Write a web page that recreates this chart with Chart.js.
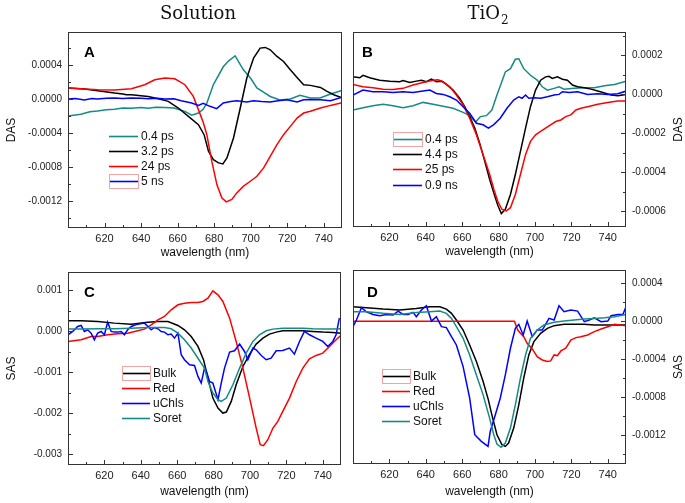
<!DOCTYPE html>
<html>
<head>
<meta charset="utf-8">
<title>DAS / SAS</title>
<script src="https://cdn.jsdelivr.net/npm/chart.js@4.4.0/dist/chart.umd.min.js"></script>
<style>
  html, body { margin:0; padding:0; background:#fff; }
  #wrap { position:relative; width:685px; height:503px; overflow:hidden; }
  #wrap canvas { position:absolute; left:0; top:0; }
  .head { position:absolute; top:0; font-family:"DejaVu Serif", serif; font-size:18px; color:#111;
          transform:translateX(-50%); white-space:nowrap; line-height:26px; }
  .head sub { font-size:12px; vertical-align:-5px; margin-left:1px; }
</style>
</head>
<body>
<div id="wrap">
  <canvas id="cA" width="685" height="503"></canvas>
  <canvas id="cB" width="685" height="503"></canvas>
  <canvas id="cC" width="685" height="503"></canvas>
  <canvas id="cD" width="685" height="503"></canvas>
  <div class="head" style="left:198px">Solution</div>
  <div class="head" style="left:488px">TiO<sub>2</sub></div>
</div>
<script>
/* ---------- ticks ---------- */
const xTicks = [620, 640, 660, 680, 700, 720, 740];
const ticksA = [-0.0012, -0.0008, -0.0004, 0, 0.0004];
const ticksB = [-0.0006, -0.0004, -0.0002, 0, 0.0002];
const ticksC = [-0.003, -0.002, -0.001, 0, 0.001];
const ticksD = [-0.0012, -0.0008, -0.0004, 0, 0.0004];

/* ---------- A : DAS, solution  [nm, value] ---------- */
const dasSol04 = [[600,-2.0e-4],[607,-1.8e-4],[612,-1.5e-4],[616,-1.4e-4],[621,-1.25e-4],[625.5,-1.2e-4],[630,-1.05e-4],[634.7,-1.1e-4],[640,-1.0e-4],[644,-1.08e-4],[648,-0.98e-4],[653,-1.0e-4],[658,-1.06e-4],[664,-1.45e-4],[667.7,-1.9e-4],[671.4,-1.65e-4],[674,-1.2e-4],[676,-0.5e-4],[679.6,1.7e-4],[685,3.8e-4],[688,4.5e-4],[691.5,5.1e-4],[696,3.45e-4],[700,2.45e-4],[703.4,1.3e-4],[707,0.8e-4],[710.7,0.3e-4],[716,-0.1e-4],[721.7,0],[727,0.45e-4],[732.7,0.12e-4],[738,0.12e-4],[743.7,0.6e-4],[750,1.0e-4]];
const dasSol32 = [[600,1.3e-4],[609,1.18e-4],[616.3,0.98e-4],[625.5,0.71e-4],[630,0.6e-4],[632,0.5e-4],[634.7,0.51e-4],[643.9,0.31e-4],[649.4,0.04e-4],[654.9,-0.27e-4],[660.4,-1.06e-4],[665.9,-2.04e-4],[671.4,-3.02e-4],[674.5,-4.2e-4],[676.9,-6.16e-4],[679.6,-7.14e-4],[682.4,-7.53e-4],[684.8,-7.65e-4],[687,-6.94e-4],[690.6,-4.59e-4],[694.3,-1.06e-4],[697.9,2.47e-4],[701.6,4.82e-4],[705.2,6.0e-4],[708,6.08e-4],[710.7,5.8e-4],[714.4,5.02e-4],[718,4.43e-4],[721.7,3.45e-4],[725.4,2.55e-4],[729,1.69e-4],[732.7,1.61e-4],[738.2,1.37e-4],[741.8,0.9e-4],[745.5,0.51e-4],[750,0.15e-4]];
const dasSol24 = [[600,1.3e-4],[609,1.18e-4],[616.3,1.1e-4],[625.5,1.05e-4],[634.7,1.22e-4],[642,1.69e-4],[647.5,2.27e-4],[653,2.47e-4],[658.5,2.39e-4],[664,1.69e-4],[668.6,0.31e-4],[671.4,-1.25e-4],[674.1,-2.8e-4],[676,-4.2e-4],[678.7,-7.33e-4],[681.5,-10.08e-4],[684.2,-11.65e-4],[686.6,-12.12e-4],[689.7,-11.84e-4],[692.4,-11.06e-4],[696.1,-10.27e-4],[699.8,-9.69e-4],[703.4,-9.1e-4],[707.1,-8.12e-4],[710.7,-6.75e-4],[714.4,-5.37e-4],[718,-4.2e-4],[721.7,-3.22e-4],[725.4,-2.24e-4],[729,-1.65e-4],[732.7,-1.45e-4],[738.2,-1.06e-4],[743.7,-0.75e-4],[750,-0.45e-4]];
const dasSol5ns = [[600,0],[604,0.05e-4],[609,-0.1e-4],[613,0.05e-4],[616,0],[621,0.1e-4],[625.5,0.12e-4],[630,0.05e-4],[634.7,0.12e-4],[640,0.1e-4],[644,0.04e-4],[649,0.08e-4],[653,0],[658,0.02e-4],[662,-0.2e-4],[667.7,-0.47e-4],[671.4,-0.75e-4],[674,-0.5e-4],[677.7,-0.86e-4],[681.4,-1.13e-4],[685,-0.47e-4],[689,-0.3e-4],[692.4,-0.2e-4],[697.9,-0.35e-4],[701.6,-0.2e-4],[706,-0.3e-4],[710.7,-0.35e-4],[715,-0.2e-4],[719.9,-0.08e-4],[725.4,-0.35e-4],[729,-0.08e-4],[733,-0.05e-4],[738.2,-0.08e-4],[743.7,-0.2e-4],[750,0.2e-4]];

/* ---------- B : DAS, TiO2 ---------- */
const dasTi04 = [[600,-0.8e-4],[605.5,-0.68e-4],[611,-0.58e-4],[616.5,-0.51e-4],[622,-0.58e-4],[627.5,-0.68e-4],[633,-0.58e-4],[638.5,-0.41e-4],[644,-0.51e-4],[649.5,-0.61e-4],[655,-0.71e-4],[660.5,-0.92e-4],[664.1,-1.09e-4],[667.4,-1.42e-4],[670,-1.14e-4],[673.3,-1.09e-4],[676.3,-0.8e-4],[679.1,-0.03e-4],[683.7,1.15e-4],[686.5,1.32e-4],[689.2,1.8e-4],[691.1,1.83e-4],[693.8,1.32e-4],[697.5,0.98e-4],[701.2,0.73e-4],[704,0.39e-4],[706.8,0.22e-4],[710.5,0.31e-4],[713.2,0.39e-4],[716,0.27e-4],[721.5,0.31e-4],[727.1,0.34e-4],[732.6,0.34e-4],[738.2,0.44e-4],[743.7,0.51e-4],[750,0.68e-4]];
const dasTi44 = [[600,0.9e-4],[603.7,0.85e-4],[605.5,0.98e-4],[609.2,0.85e-4],[614.7,0.73e-4],[620.2,0.68e-4],[625.7,0.65e-4],[627.5,0.71e-4],[631.2,0.61e-4],[634.8,0.68e-4],[637.6,0.73e-4],[640.3,0.65e-4],[643.1,0.78e-4],[645.8,0.65e-4],[648.6,0.68e-4],[651.3,0.51e-4],[655,0.22e-4],[658.6,-0.2e-4],[661.4,-0.63e-4],[664.1,-1.14e-4],[666.9,-1.73e-4],[669.6,-2.5e-4],[672.4,-3.43e-4],[675.1,-4.36e-4],[677.5,-5.1e-4],[679.6,-5.7e-4],[681.5,-6.11e-4],[683.7,-5.89e-4],[686.5,-5.13e-4],[689.2,-4.11e-4],[692,-2.92e-4],[694.8,-1.73e-4],[697.5,-0.63e-4],[700.3,0.22e-4],[703.1,0.73e-4],[705.8,0.9e-4],[707.7,0.93e-4],[709.5,0.82e-4],[712.3,0.9e-4],[715.1,0.78e-4],[717.8,0.73e-4],[720.6,0.48e-4],[723.4,0.39e-4],[727.1,0.34e-4],[730.8,0.27e-4],[734.5,0.17e-4],[738.2,0.07e-4],[741.8,-0.03e-4],[745.5,-0.07e-4],[750,0]];
const dasTi25 = [[600,0.51e-4],[605.5,0.39e-4],[611,0.34e-4],[616.5,0.27e-4],[622,0.25e-4],[627.5,0.31e-4],[633,0.48e-4],[638.5,0.61e-4],[644,0.73e-4],[646.7,0.75e-4],[649.5,0.65e-4],[653.2,0.39e-4],[656.8,-0.03e-4],[660.5,-0.54e-4],[664.1,-1.22e-4],[667.8,-2.07e-4],[671.5,-3.09e-4],[675.1,-4.11e-4],[677.5,-4.9e-4],[679.6,-5.5e-4],[681.8,-5.89e-4],[684.2,-5.98e-4],[686.5,-5.81e-4],[689.2,-5.13e-4],[692,-4.11e-4],[694.8,-3.09e-4],[697.5,-2.41e-4],[700.3,-2.07e-4],[703.1,-1.9e-4],[705.8,-1.73e-4],[708.6,-1.56e-4],[711.4,-1.39e-4],[714.2,-1.31e-4],[716.9,-1.14e-4],[719.7,-1.05e-4],[722.5,-0.8e-4],[725.2,-0.71e-4],[728.9,-0.63e-4],[734.5,-0.51e-4],[740,-0.41e-4],[745.5,-0.34e-4],[750,-0.34e-4]];
const dasTi09 = [[600,-0.03e-4],[605.5,0.22e-4],[611,0.14e-4],[616.5,0.14e-4],[622,0.1e-4],[627.5,0.14e-4],[633,0.1e-4],[638.5,0.17e-4],[642.2,0.22e-4],[645.8,0.05e-4],[649.5,0],[653.2,-0.12e-4],[656.8,-0.29e-4],[660.5,-0.63e-4],[664.1,-0.97e-4],[667.8,-1.48e-4],[671.5,-1.56e-4],[674.4,-1.73e-4],[677.2,-1.56e-4],[680.9,-1.22e-4],[684.6,-0.71e-4],[688.3,-0.29e-4],[691.1,-0.12e-4],[692.9,-0.2e-4],[694.8,-0.03e-4],[696.6,-0.2e-4],[699.4,-0.17e-4],[703.1,-0.2e-4],[706.8,-0.12e-4],[710.5,-0.03e-4],[713.2,0],[715.1,0.14e-4],[718.8,0.1e-4],[723.4,0.14e-4],[728.9,0],[734.5,0.03e-4],[740,0],[745.5,0.03e-4],[750,0.17e-4]];

/* ---------- C : SAS, solution ---------- */
const sasSolBulk = [[600,2.51e-4],[607.2,2.51e-4],[616.3,2.35e-4],[625.5,1.95e-4],[634.7,1.7e-4],[643.9,2.19e-4],[649.4,2.35e-4],[654.9,2.35e-4],[660.4,1.38e-4],[664,0.32e-4],[667.7,-1.3e-4],[671.4,-3.73e-4],[674.5,-7.0e-4],[676.9,-11.44e-4],[679.6,-16.3e-4],[682.4,-18.73e-4],[685.1,-19.95e-4],[687,-19.71e-4],[689.7,-17.11e-4],[692.4,-13.06e-4],[696.1,-8.6e-4],[699.8,-5.6e-4],[703.4,-3.16e-4],[707.1,-1.7e-4],[710.7,-0.73e-4],[714.4,-0.24e-4],[718,0.08e-4],[723.5,0.08e-4],[729,0.08e-4],[734.5,-0.08e-4],[740,-0.24e-4],[745.5,-0.32e-4],[750,-0.49e-4]];
const sasSolRed = [[600,-2.51e-4],[607.2,-2.11e-4],[612.7,-1.3e-4],[616.3,-1.3e-4],[621.8,-0.89e-4],[627.3,-0.65e-4],[632.8,-0.49e-4],[638.3,0.08e-4],[642,0.49e-4],[645.7,1.54e-4],[649.4,2.76e-4],[653,3.57e-4],[656.7,5.19e-4],[660.4,6.41e-4],[664,6.81e-4],[667.7,6.97e-4],[671.4,7.0e-4],[674.1,7.22e-4],[676.9,8.03e-4],[679.6,9.81e-4],[682.4,8.84e-4],[685.1,7.22e-4],[688.8,3.16e-4],[692.4,-2.51e-4],[696.1,-9.0e-4],[699.8,-16.3e-4],[703.4,-23.6e-4],[705.6,-27.66e-4],[707.4,-27.9e-4],[709.8,-26.44e-4],[712.6,-23.6e-4],[715.3,-21.98e-4],[718,-19.55e-4],[721.7,-16.3e-4],[725.4,-12.25e-4],[729,-9.0e-4],[732.7,-6.73e-4],[736.3,-5.92e-4],[740,-5.35e-4],[743.7,-3.73e-4],[747.3,-2.11e-4],[750,-1.0e-4]];
const sasSolU = [[600,-0.89e-4],[602.6,-0.08e-4],[605.3,1.14e-4],[607.2,1.38e-4],[609,-0.08e-4],[610.8,0.32e-4],[612.7,-0.49e-4],[614.5,-2.11e-4],[616.3,-0.49e-4],[618.2,-0.08e-4],[620,-0.89e-4],[621.8,2.19e-4],[623.7,-0.08e-4],[625.5,-0.24e-4],[627.3,-0.24e-4],[629.2,-0.08e-4],[631,-0.89e-4],[632.8,0.32e-4],[634.7,1.14e-4],[638.3,1.7e-4],[642,1.95e-4],[643.9,1.14e-4],[645.7,0.32e-4],[647.5,0.89e-4],[649.4,0.57e-4],[651.2,-0.08e-4],[653,-0.24e-4],[654.9,-0.89e-4],[656.7,-0.73e-4],[658.5,-1.7e-4],[660.4,-0.49e-4],[662.2,-5.76e-4],[664,-6.97e-4],[666.8,-8.19e-4],[669.5,-8.35e-4],[671.4,-11.03e-4],[673.2,-12.65e-4],[675,-9.0e-4],[676,-9.81e-4],[677.8,-12.25e-4],[679.6,-12.65e-4],[682.4,-16.7e-4],[684.2,-12.65e-4],[686,-9.0e-4],[688.8,-5.11e-4],[691.5,-4.79e-4],[694.3,-3.16e-4],[697,-4.95e-4],[698.8,-6.97e-4],[701.6,-4.14e-4],[703.4,-4.54e-4],[706.2,-5.92e-4],[708.9,-6.97e-4],[711.6,-6.57e-4],[714.4,-4.79e-4],[718,-4.7e-4],[721.7,-4.14e-4],[724.4,-5.6e-4],[727.2,-2.51e-4],[729.9,-0.08e-4],[732.7,-0.89e-4],[736.3,-1.7e-4],[740,-2.51e-4],[742.7,-3.73e-4],[745.5,-2.51e-4],[747.3,-0.89e-4],[749.1,3.16e-4]];
const sasSolSoret = [[600,0.49e-4],[607.2,0.49e-4],[616.3,0.57e-4],[625.5,0.57e-4],[634.7,0.73e-4],[643.9,0.89e-4],[653,0.89e-4],[656.7,0.57e-4],[660.4,-0.49e-4],[664,-2.1e-4],[667.7,-4.1e-4],[671.4,-6.6e-4],[675,-9.0e-4],[676.9,-12.25e-4],[679.6,-15.08e-4],[682.4,-16.7e-4],[684.2,-17.11e-4],[687,-16.3e-4],[690.6,-13.06e-4],[694.3,-9.0e-4],[697.9,-5.35e-4],[701.6,-2.51e-4],[705.2,-0.89e-4],[708.9,0.08e-4],[712.6,0.49e-4],[718,0.73e-4],[723.5,0.73e-4],[729,0.73e-4],[734.5,0.57e-4],[740,0.49e-4],[745.5,0.49e-4],[750,0.57e-4]];

/* ---------- D : SAS, TiO2 ---------- */
const sasTiBulk = [[600,1.54e-4],[607.4,1.43e-4],[616.5,1.29e-4],[625.7,1.19e-4],[634.8,1.36e-4],[642.2,1.54e-4],[647.7,1.54e-4],[651.3,1.29e-4],[654.1,0.84e-4],[656.8,0.14e-4],[660.5,-0.91e-4],[664.1,-2.48e-4],[667.8,-4.23e-4],[671.5,-6.33e-4],[674.3,-8.2e-4],[676.3,-9.83e-4],[679.1,-11.92e-4],[681.8,-12.97e-4],[683.7,-13.15e-4],[685.5,-12.8e-4],[688.3,-11.22e-4],[691.1,-8.78e-4],[693.8,-5.98e-4],[696.6,-3.53e-4],[699.4,-2.13e-4],[703.1,-1.26e-4],[706.8,-0.73e-4],[710.5,-0.45e-4],[716,-0.31e-4],[721.5,-0.31e-4],[727.1,-0.31e-4],[732.6,-0.38e-4],[738.2,-0.38e-4],[743.7,-0.38e-4],[750,-0.38e-4]];
const sasTiRed = [[600,0],[688.7,0],[690.5,-0.91e-4],[692,-1.26e-4],[693.8,-1.61e-4],[695.7,-2.31e-4],[698.5,-2.9e-4],[701.2,-3.71e-4],[704,-4.06e-4],[706.8,-4.23e-4],[708.6,-4.16e-4],[710.5,-3.53e-4],[712.3,-3.6e-4],[714.2,-3.11e-4],[716.9,-2.83e-4],[719.7,-1.96e-4],[722.5,-1.71e-4],[725.2,-1.61e-4],[728.9,-1.43e-4],[732.6,-1.08e-4],[736.3,-0.8e-4],[740,-0.56e-4],[743.7,-0.31e-4],[750,-0.45e-4]];
const sasTiU = [[600,-0.56e-4],[601.9,0.14e-4],[604.6,1.43e-4],[607.4,1.01e-4],[611,0.73e-4],[614.7,0.59e-4],[618.4,0.73e-4],[622,0.66e-4],[624.8,1.08e-4],[627.5,0.73e-4],[630.3,0.73e-4],[633,0.94e-4],[634.8,0.49e-4],[637.6,1.19e-4],[640.3,1.64e-4],[643.1,0.03e-4],[645.8,0.49e-4],[648.6,-0.56e-4],[651.3,-0.66e-4],[654.1,-1.61e-4],[656.8,-2.48e-4],[660.5,-4.76e-4],[664.1,-8.08e-4],[666.9,-11.92e-4],[670.5,-12.62e-4],[674.2,-13.15e-4],[675.4,-11.58e-4],[678.2,-9.83e-4],[680.9,-8.08e-4],[683.7,-5.63e-4],[686.5,-2.83e-4],[689.2,-0.73e-4],[691.1,-0.31e-4],[693.5,-1.43e-4],[695.7,0.03e-4],[698.5,-1.61e-4],[701.2,-0.91e-4],[704,-0.91e-4],[707.7,0.31e-4],[710.5,0.14e-4],[713.2,1.64e-4],[716,1.01e-4],[719.7,1.19e-4],[723.4,1.08e-4],[727.1,-0.03e-4],[729.8,0.14e-4],[732.6,0.38e-4],[736.3,-0.03e-4],[740,0.03e-4],[741.8,0.59e-4],[745.5,0.73e-4],[748.3,0.73e-4],[750,1.54e-4]];
const sasTiSoret = [[600,1.01e-4],[607.4,1.01e-4],[616.5,0.84e-4],[625.7,0.73e-4],[634.8,0.94e-4],[642.2,1.01e-4],[647.7,1.08e-4],[651.3,0.84e-4],[654.1,0.31e-4],[656.8,-0.56e-4],[660.5,-1.78e-4],[664.1,-3.53e-4],[667.8,-5.63e-4],[671.5,-7.73e-4],[675.1,-10.2e-4],[677.3,-11.9e-4],[679.1,-12.9e-4],[681.3,-13.25e-4],[683.7,-12.8e-4],[686.5,-11.22e-4],[689.2,-8.78e-4],[692,-5.98e-4],[694.8,-3.53e-4],[697.5,-1.78e-4],[701.2,-0.91e-4],[704.9,-0.38e-4],[710.5,-0.1e-4],[716,0.03e-4],[721.5,0.14e-4],[727.1,0.24e-4],[732.6,0.31e-4],[738.2,0.38e-4],[743.7,0.49e-4],[750,0.73e-4]];

const TEAL = '#178a85', BLACK = '#000000', RED = '#ff0000', BLUE = '#0000ff';
const FONT = '"Liberation Sans", Arial, sans-serif';
Chart.defaults.font.family = FONT;

// moldura + ticks para dentro + legenda + letra do painel
const panelDeco = {
  id: 'panelDeco',
  afterDatasetsDraw(chart, args, o){
    const { ctx, chartArea: a, scales: { x, y } } = chart;
    ctx.save();
    ctx.strokeStyle = '#333';
    ctx.lineWidth = 1;
    ctx.strokeRect(a.left + 0.5, a.top + 0.5, a.right - a.left - 1, a.bottom - a.top - 1);

    ctx.beginPath();
    for(let k = 61; k < 75; k++){            // 610 ... 740 nm, de 10 em 10
      const v = k * 10;
      const px = Math.round(x.getPixelForValue(v)) + 0.5;
      const len = (v % 20 === 0) ? 5 : 3;
      ctx.moveTo(px, a.bottom); ctx.lineTo(px, a.bottom - len);
    }
    const edge = o.side === 'left' ? a.left : a.right;
    const dir  = o.side === 'left' ? 1 : -1;
    const kMin = Math.ceil(y.min / o.minor), kMax = Math.floor(y.max / o.minor);
    for(let k = kMin; k <= kMax; k++){
      const v = k * o.minor;
      const py = Math.round(y.getPixelForValue(v)) + 0.5;
      const major = o.majors.some(m => Math.abs(m - v) < o.minor / 10);
      ctx.moveTo(edge, py); ctx.lineTo(edge + dir * (major ? 5 : 3), py);
    }
    ctx.stroke();

    // letra
    ctx.fillStyle = '#000';
    ctx.font = 'bold 15px ' + FONT;
    ctx.textAlign = 'left'; ctx.textBaseline = 'alphabetic';
    ctx.fillText(o.letter, o.lx, o.ly);

    // legenda
    const L = o.legend;
    ctx.font = '12px ' + FONT;
    ctx.textBaseline = 'middle';
    chart.data.datasets.forEach((ds, i) => {
      const yy = Math.round(L.y + i * L.dy) + 0.5;
      ctx.strokeStyle = ds.borderColor; ctx.lineWidth = 1.6;
      ctx.beginPath(); ctx.moveTo(L.x, yy); ctx.lineTo(L.x + L.len, yy); ctx.stroke();
      ctx.fillStyle = '#111';
      ctx.fillText(ds.label, L.x + L.len + 3, yy + 0.5);
      if(i === L.box){
        ctx.strokeStyle = '#f4a3a3'; ctx.lineWidth = 1;
        ctx.strokeRect(L.x + 0.5, yy - 7, L.len, 14);
      }
    });

    // título do eixo y à direita (lido de baixo p/ cima)
    if(o.rightTitle){
      ctx.save();
      ctx.translate(o.rightTitleX, (a.top + a.bottom) / 2);
      ctx.rotate(-Math.PI / 2);
      ctx.textAlign = 'center'; ctx.textBaseline = 'middle';
      ctx.fillStyle = '#111'; ctx.font = '12px ' + FONT;
      ctx.fillText(o.rightTitle, 0, 0);
      ctx.restore();
    }
    ctx.restore();
  }
};

function makePanel(id, p){
  const n = p.series.length;
  const datasets = p.series.map((s, i) => ({
    label: s.label,
    data: s.data.map(([x, y]) => ({ x, y })),
    borderColor: s.color,
    borderWidth: 1.5,
    pointRadius: 0,
    tension: 0,
    order: n - i
  }));
  const left = p.side === 'left';
  const noGrid = { display: false, drawTicks: false, tickLength: 0 };
  return new Chart(document.getElementById(id), {
    type: 'line',
    data: { datasets },
    options: {
      responsive: false,
      animation: false,
      events: [],
      layout: { padding: p.pad },
      plugins: {
        legend: { display: false },
        tooltip: { enabled: false },
        panelDeco: { side: p.side, minor: p.minor, majors: p.ticks, letter: p.letter, lx: p.lx, ly: p.ly,
                     legend: p.legend, rightTitle: left ? null : p.yTitle, rightTitleX: 679 }
      },
      scales: {
        x: {
          type: 'linear', min: 600, max: 750,
          afterBuildTicks: s => { s.ticks = xTicks.map(v => ({ value: v })); },
          afterFit: s => { s.height = p.xH; },
          grid: noGrid, border: { display: false },
          ticks: { padding: 4, color: '#222', font: { size: 11 } },
          title: { display: true, text: 'wavelength (nm)', color: '#111', font: { size: 12 } }
        },
        y: {
          type: 'linear', position: p.side, min: p.min, max: p.max,
          afterBuildTicks: s => { s.ticks = p.ticks.map(v => ({ value: v })); },
          afterFit: s => { s.width = p.yW; },
          grid: noGrid, border: { display: false },
          ticks: { padding: 6, color: '#222', font: { size: 10 }, callback: v => v.toFixed(p.dec) },
          title: { display: left, text: p.yTitle, color: '#111', font: { size: 12 } }
        }
      }
    },
    plugins: [panelDeco]
  });
}

makePanel('cA', {
  side: 'left', pad: { left: 0, top: 32, right: 343, bottom: 239 }, yW: 68, xH: 36,
  min: -0.00152, max: 0.00079, ticks: ticksA, minor: 0.0002, dec: 4, yTitle: 'DAS',
  letter: 'A', lx: 84, ly: 57,
  legend: { x: 109, y: 135.5, dy: 15, len: 29, box: 3 },
  series: [
    { label: '0.4 ps', color: TEAL,  data: dasSol04 },
    { label: '3.2 ps', color: BLACK, data: dasSol32 },
    { label: '24 ps',  color: RED,   data: dasSol24 },
    { label: '5 ns',   color: BLUE,  data: dasSol5ns }
  ]
});

makePanel('cB', {
  side: 'right', pad: { left: 353, top: 32, right: 0, bottom: 240 }, yW: 59, xH: 36,
  min: -0.00068, max: 0.00032, ticks: ticksB, minor: 0.0001, dec: 4, yTitle: 'DAS',
  letter: 'B', lx: 362, ly: 57,
  legend: { x: 393, y: 139, dy: 15.2, len: 29, box: 0 },
  series: [
    { label: '0.4 ps', color: TEAL,  data: dasTi04 },
    { label: '4.4 ps', color: BLACK, data: dasTi44 },
    { label: '25 ps',  color: RED,   data: dasTi25 },
    { label: '0.9 ns', color: BLUE,  data: dasTi09 }
  ]
});

makePanel('cC', {
  side: 'left', pad: { left: 0, top: 272, right: 344, bottom: 0 }, yW: 68, xH: 38,
  min: -0.00326, max: 0.00144, ticks: ticksC, minor: 0.0005, dec: 3, yTitle: 'SAS',
  letter: 'C', lx: 84, ly: 297,
  legend: { x: 122, y: 372.5, dy: 15.1, len: 28, box: 0 },
  series: [
    { label: 'Bulk',  color: BLACK, data: sasSolBulk },
    { label: 'Red',   color: RED,   data: sasSolRed },
    { label: 'uChls', color: BLUE,  data: sasSolU },
    { label: 'Soret', color: TEAL,  data: sasSolSoret }
  ]
});

makePanel('cD', {
  side: 'right', pad: { left: 353, top: 270, right: 0, bottom: 0 }, yW: 59, xH: 39,
  min: -0.0015, max: 0.00054, ticks: ticksD, minor: 0.0002, dec: 4, yTitle: 'SAS',
  letter: 'D', lx: 367, ly: 297,
  legend: { x: 382, y: 375.5, dy: 15.2, len: 28, box: 0 },
  series: [
    { label: 'Bulk',  color: BLACK, data: sasTiBulk },
    { label: 'Red',   color: RED,   data: sasTiRed },
    { label: 'uChls', color: BLUE,  data: sasTiU },
    { label: 'Soret', color: TEAL,  data: sasTiSoret }
  ]
});
</script>
</body>
</html>
